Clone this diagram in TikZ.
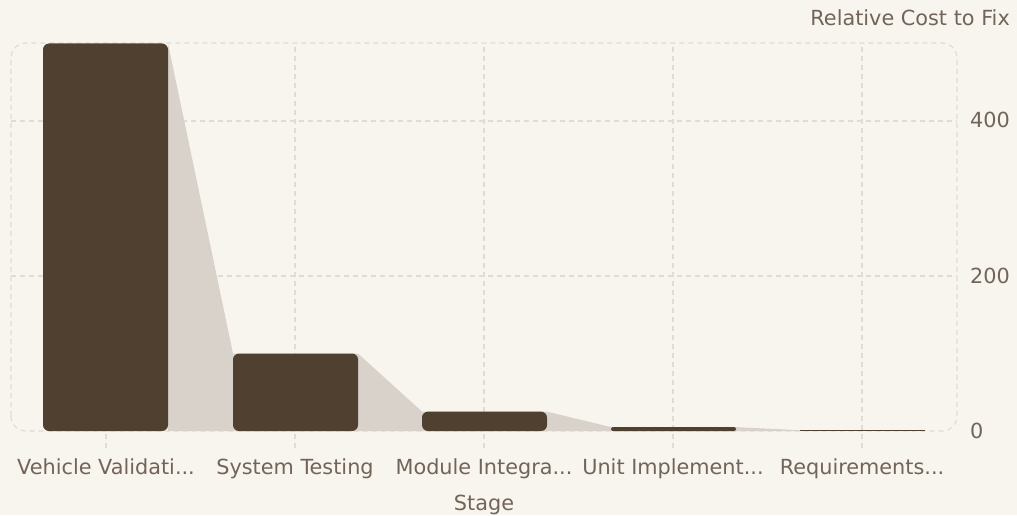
\documentclass[tikz,border=0pt]{standalone}
\usepackage{fontspec}
\setmainfont{DejaVu Sans}
\usetikzlibrary{positioning}
\definecolor{bgcream}{HTML}{F8F5EF}
\definecolor{barbrown}{HTML}{4F4030}
\definecolor{areashade}{HTML}{D9D2CB}
\definecolor{gridgray}{HTML}{DEDCD8}
\definecolor{inkgray}{HTML}{73645A}
\tikzset{
  grid line/.style={draw=gridgray,line width=1.2pt,dash pattern=on 5pt off 4pt},
  axis text/.style={text=inkgray,font=\fontsize{20.8}{24}\selectfont,inner sep=0pt},
  cost bar/.style={fill=barbrown}
}

\begin{document}
\begin{tikzpicture}[x=1pt,y=1pt]
	% background and page size
	\fill[bgcream] (0,0) rectangle (1017,515);
	\useasboundingbox (0,0) rectangle (1017,515);
	%% the grid
	\foreach \gx in {106,295,484,673,862}
		\draw[grid line] (\gx,67) -- (\gx,472);
	\foreach \gy in {239,394}
		\draw[grid line] (11,\gy) -- (957,\gy);
	\draw[grid line,rounded corners=15pt] (11,84) rectangle (957,472);
	%% the shaded area between the bar tops
	\fill[areashade] (168,84) -- (168,471.5) -- (233,161.5) -- (358,161.5)
		-- (422,103.4) -- (547,103.4) -- (611,87.9) -- (736,87.9)
		-- (800,84.8) -- (800,84) -- cycle;
	%% the bars
	\fill[cost bar,rounded corners=6pt] (43,84) rectangle (168,471.5);
	\fill[cost bar,rounded corners=6pt] (233,84) rectangle (358,161.5);
	\fill[cost bar,rounded corners=6pt] (422,84) rectangle (547,103.4);
	\fill[cost bar,rounded corners=2pt] (611,84) rectangle (736,87.9);
	\fill[cost bar] (800,84) rectangle (925,85.2);
	%% the labels
	\node[axis text,anchor=base east] (title) at (1010,489) {Relative Cost to Fix};
	\node[axis text,anchor=base west] (ytick400) at (970,387) {400};
	\node[axis text,anchor=base west] (ytick200) at (970,232) {200};
	\node[axis text,anchor=base west] (ytick0) at (970,77) {0};
	\node[axis text,anchor=base] (vehicle) at (106,41) {Vehicle Validati...};
	\node[axis text,anchor=base] (system) at (295,41) {System Testing};
	\node[axis text,anchor=base] (module) at (484,41) {Module Integra...};
	\node[axis text,anchor=base] (unit) at (673,41) {Unit Implement...};
	\node[axis text,anchor=base] (reqs) at (862,41) {Requirements...};
	\node[axis text,anchor=base] (stage) at (484,5) {Stage};
\end{tikzpicture}
\end{document}
